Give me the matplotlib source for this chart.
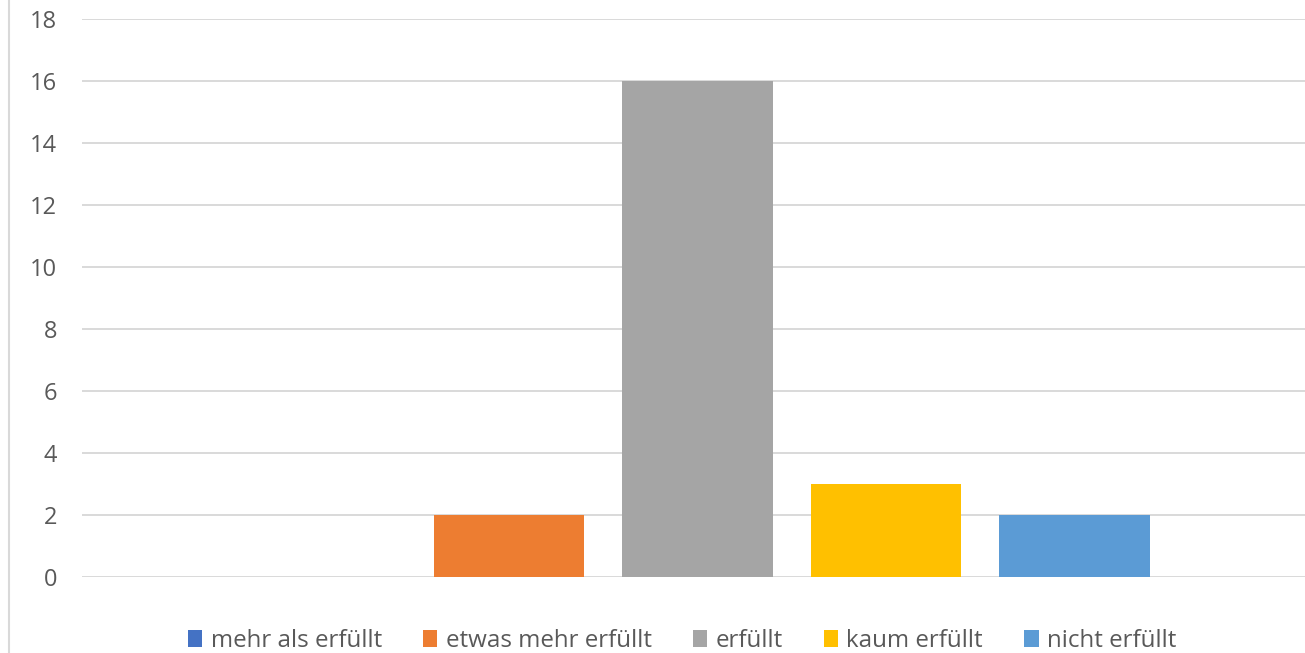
import matplotlib.pyplot as plt
from matplotlib.patches import Patch
from matplotlib.lines import Line2D

plt.rcParams['font.family'] = ['Open Sans', 'DejaVu Sans']

# Daten
kategorien = ['mehr als erfüllt', 'etwas mehr erfüllt', 'erfüllt', 'kaum erfüllt', 'nicht erfüllt']
werte = [0, 2, 16, 3, 2]
farben = ['#4472C4', '#ED7D31', '#A5A5A5', '#FFC000', '#5B9BD5']
y_ticks = [0, 2, 4, 6, 8, 10, 12, 14, 16, 18]

fig = plt.figure(figsize=(13.05, 6.53), dpi=100)
ax = fig.add_axes([82 / 1305, 76.5 / 653, 1 - 82 / 1305, 558 / 653])

x = range(len(werte))
ax.bar(x, werte, width=0.8, color=farben, zorder=3)

ax.set_ylim(0, 18)
ax.set_xlim(-1.265, 5.223)
ax.set_yticks(y_ticks)
ax.set_xticks([])
ax.grid(axis='y', color='#d9d9d9', linewidth=1.4, zorder=0)
for s in ax.spines.values():
    s.set_visible(False)
ax.tick_params(axis='y', length=0, pad=18, labelsize=17, labelcolor='#595959')

# Rahmenlinie links
fig.add_artist(Line2D([8.5 / 1305, 8.5 / 1305], [0, 1], color='#d9d9d9', linewidth=1.5))

# Legende unten
handles = [Patch(facecolor=f, label=k) for k, f in zip(kategorien, farben)]
leg = fig.legend(handles=handles, loc='center', ncol=5, frameon=False,
                 bbox_to_anchor=(682 / 1305, 1 - 641 / 653), fontsize=17.4,
                 handlelength=0.6, handleheight=0.75, handletextpad=0.34,
                 columnspacing=1.7, borderpad=0)
for t in leg.get_texts():
    t.set_color('#595959')

fig.savefig('out.png', dpi=100)
